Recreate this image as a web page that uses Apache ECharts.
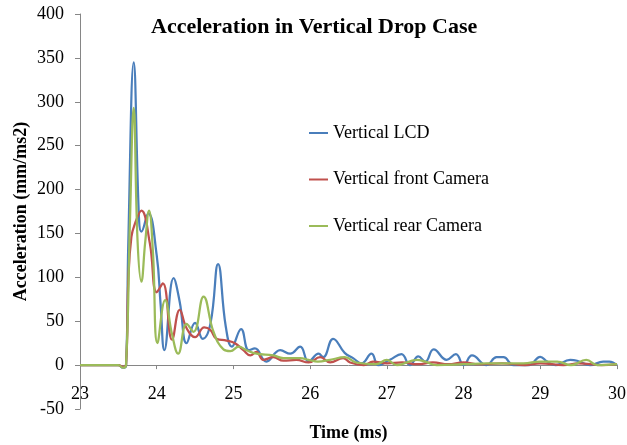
<!DOCTYPE html>
<html>
<head>
<meta charset="utf-8">
<title>Acceleration in Vertical Drop Case</title>
<script src="https://cdn.jsdelivr.net/npm/echarts@6/dist/echarts.min.js"></script>
<style>
  html, body { margin: 0; padding: 0; background: #fff; }
  #chart { width: 627px; height: 445px; }
</style>
</head>
<body>
<div id="chart"></div>
<script>
// Axis ranges (ms, mm/ms2)
var xTicks = { min: 23, max: 30, step: 1 };
var yTicks = { min: -50, max: 400, step: 50 };

var seriesNames = ['Vertical LCD', 'Vertical front Camera', 'Vertical rear Camera'];

// Vertical LCD
var lcdTime = [23.0, 23.5, 23.56, 23.6, 23.63, 23.7, 23.77, 23.8, 23.89, 24.0, 24.05, 24.1,
  24.22, 24.3, 24.39, 24.5, 24.6, 24.7, 24.8, 24.9, 24.98, 25.1, 25.2, 25.28, 25.43,
  25.61, 25.74, 25.87, 25.98, 26.11, 26.17, 26.3, 26.45, 26.56, 26.67, 26.8, 26.89,
  27.04, 27.19, 27.3, 27.41, 27.5, 27.61, 27.78, 27.9, 28.0, 28.11, 28.3, 28.43, 28.52,
  28.65, 28.85, 29.0, 29.09, 29.2, 29.39, 29.48, 29.65, 29.82, 29.9, 30.0];
var lcdAcc = [0, 0, -3, -1, 140, 345, 165, 152, 173, 125, 70, 17,
  99, 72, 25, 48, 30, 47, 115, 44, 21, 41, 17, 19, 4,
  17, 13, 21, 4, 13, 9, 30, 14, 8, 2, 13, 0,
  6, 12.5, 0, 10, 4, 18, 6, 12.5, 0, 11, 0, 9, 9,
  0, 0, 9.5, 4, 0, 6, 5, 0, 4, 4, 0];

// Vertical front Camera
var frontTime = [23.0, 23.5, 23.56, 23.6, 23.63, 23.67, 23.72, 23.8, 23.91, 24.0, 24.08,
  24.2, 24.3, 24.39, 24.5, 24.62, 24.7, 24.78, 24.91, 25.02, 25.13, 25.22, 25.3, 25.39,
  25.52, 25.65, 25.82, 25.98, 26.13, 26.26, 26.43, 26.52, 26.7, 26.82, 27.0, 27.2, 27.4,
  27.6, 27.8, 28.0, 28.2, 28.5, 28.8, 29.0, 29.3, 29.5, 29.8, 30.0];
var frontAcc = [0, 0, -2, 0, 97, 146, 162, 176, 139, 83, 93,
  29, 63, 42, 32, 43, 40, 30, 28, 25, 17, 11, 15, 6,
  9, 5, 6, 3, 9, 3, 8, 3, 0, 4, 2, 3, 1,
  3, 1, 3, 1, 2, 0, 2, 0, 2, 0, 1];

// Vertical rear Camera
var rearTime = [23.0, 23.5, 23.56, 23.6, 23.65, 23.7, 23.75, 23.8, 23.85, 23.9, 23.95,
  24.01, 24.11, 24.2, 24.28, 24.39, 24.48, 24.61, 24.74, 24.87, 24.96, 25.07, 25.17,
  25.3, 25.52, 25.65, 25.87, 25.98, 26.1, 26.26, 26.45, 26.6, 26.86, 27.0, 27.13, 27.39,
  27.5, 27.65, 28.0, 28.3, 28.78, 29.0, 29.22, 29.4, 29.6, 29.74, 30.0];
var rearAcc = [0, 0, -3, 0, 160, 293, 142, 95, 140, 176, 130,
  25, 74, 35, 13, 47, 38, 78, 38, 18, 16, 21, 17,
  13, 11, 8, 8, 6, 4, 6, 9, 3, 1, 6, 0, 6,
  4, 0, 1, 2, 2, 4, 4, 0, 6, 0, 1];

var colors = ['#4A7EBB', '#C0504D', '#9BBB59'];

function pairs(t, v) {
  return t.map(function (x, i) { return [x, v[i]]; });
}

var serif = 'Liberation Serif, Times New Roman, serif';

var chart = echarts.init(document.getElementById('chart'), null, { renderer: 'canvas' });

function line(name, data, color) {
  return {
    name: name,
    type: 'line',
    data: data,
    smooth: 0.45,
    showSymbol: false,
    symbol: 'none',
    lineStyle: { color: color, width: 2.25 },
    itemStyle: { color: color },
    emphasis: { disabled: true },
    animation: false
  };
}

chart.setOption({
  animation: false,
  backgroundColor: '#ffffff',
  title: {
    text: 'Acceleration in Vertical Drop Case',
    left: 146,
    top: 11,
    textStyle: { fontFamily: serif, fontSize: 22, fontWeight: 'bold', color: '#000' }
  },
  legend: {
    orient: 'vertical',
    left: 304,
    top: 119,
    itemWidth: 19,
    itemHeight: 2,
    itemGap: 28.5,
    icon: 'rect',
    data: seriesNames,
    textStyle: { fontFamily: serif, fontSize: 18, color: '#000', lineHeight: 18 }
  },
  grid: { left: 80, right: 10, top: 14, bottom: 36, containLabel: false, outerBoundsMode: 'none' },
  xAxis: {
    type: 'value',
    min: xTicks.min,
    max: xTicks.max,
    interval: xTicks.step,
    name: 'Time (ms)',
    nameLocation: 'middle',
    nameGap: 15,
    nameMoveOverlap: false,
    nameTextStyle: { fontFamily: serif, fontSize: 18, fontWeight: 'bold', color: '#000' },
    axisLine: { show: true, onZero: true, lineStyle: { color: '#868686', width: 1 } },
    axisTick: { show: true, inside: false, length: 4, lineStyle: { color: '#868686' } },
    axisLabel: { margin: -24, fontFamily: serif, fontSize: 18, color: '#000' },
    splitLine: { show: false }
  },
  yAxis: {
    type: 'value',
    min: yTicks.min,
    max: yTicks.max,
    interval: yTicks.step,
    name: 'Acceleration (mm/ms2)',
    nameLocation: 'middle',
    nameGap: 50,
    nameMoveOverlap: false,
    nameTextStyle: { fontFamily: serif, fontSize: 18, fontWeight: 'bold', color: '#000' },
    axisLine: { show: true, lineStyle: { color: '#868686', width: 1 } },
    axisTick: { show: true, inside: false, length: 5, lineStyle: { color: '#868686' } },
    axisLabel: { margin: 16, fontFamily: serif, fontSize: 18, color: '#000' },
    splitLine: { show: false }
  },
  series: [
    line(seriesNames[0], pairs(lcdTime, lcdAcc), colors[0]),
    line(seriesNames[1], pairs(frontTime, frontAcc), colors[1]),
    line(seriesNames[2], pairs(rearTime, rearAcc), colors[2])
  ]
});
</script>
</body>
</html>
